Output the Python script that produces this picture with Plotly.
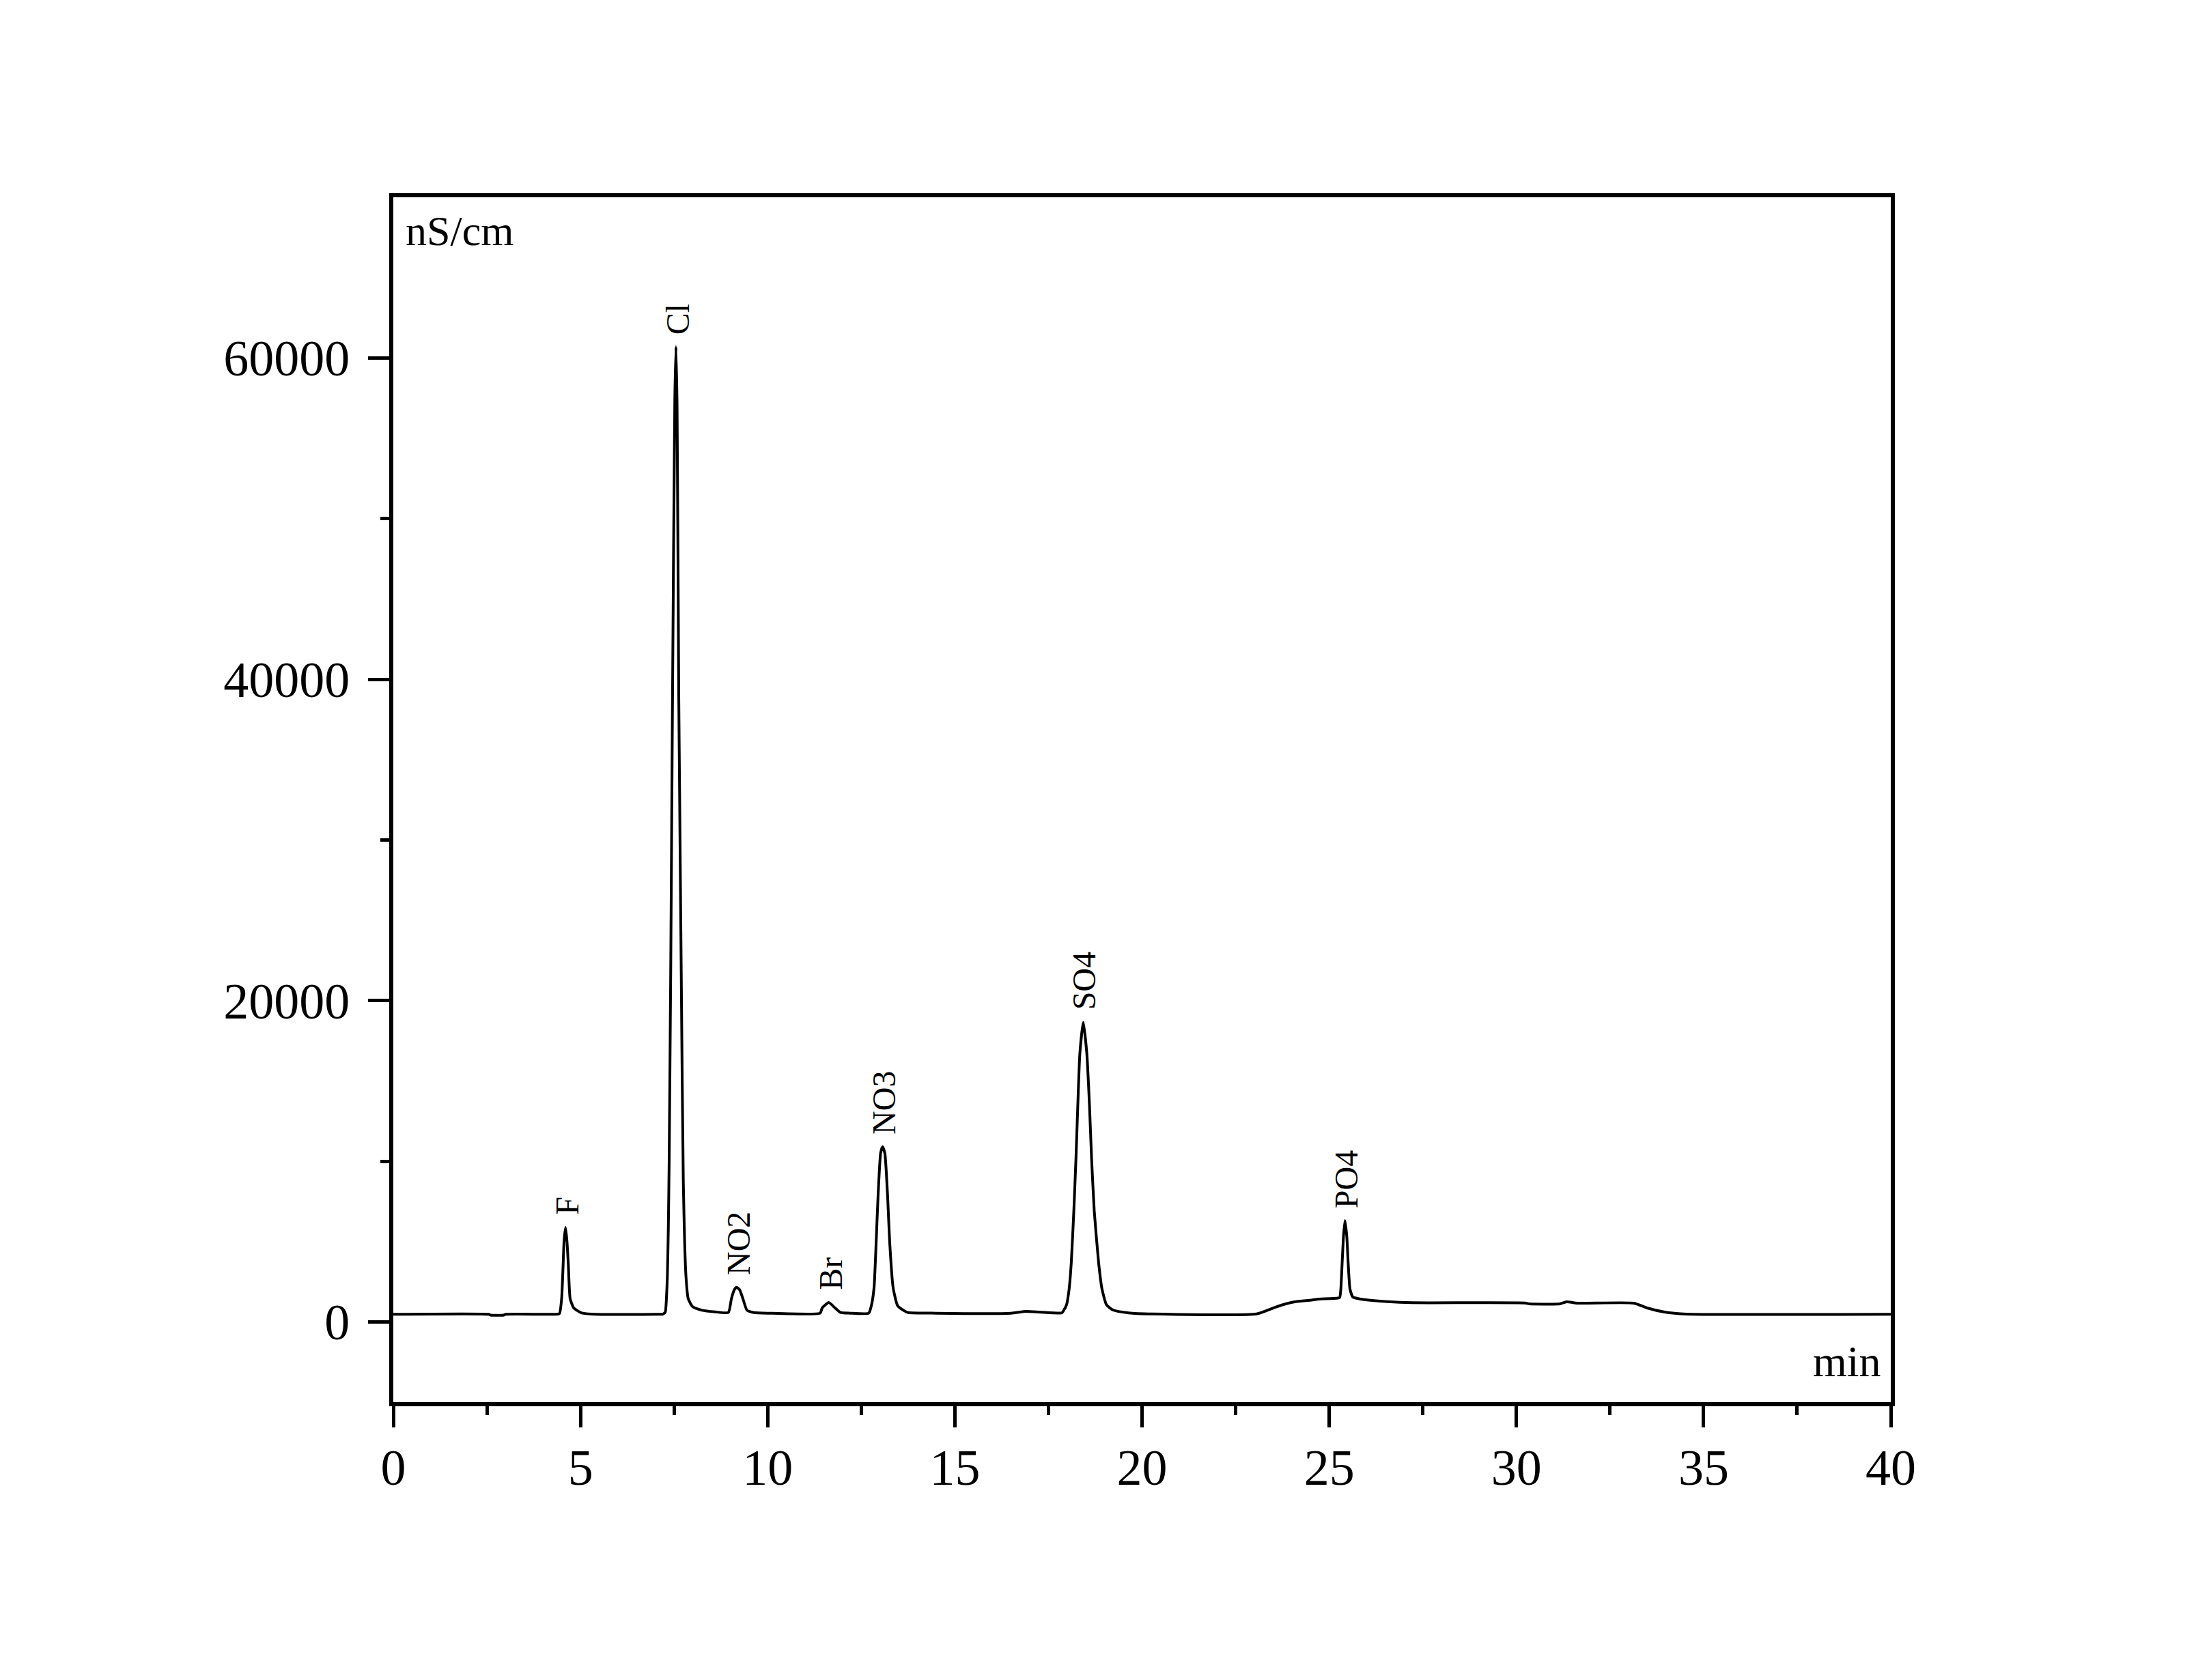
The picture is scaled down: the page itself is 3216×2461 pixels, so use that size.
import numpy as np
import plotly.graph_objects as go

# ---- data ----
time_min = [
    0.00, 2.55, 2.60, 2.95, 3.00, 4.40,
    4.44, 4.496, 4.536, 4.56, 4.60, 4.64, 4.675, 4.724, 4.82, 5.02, 5.30, 7.00,
    7.20, 7.264, 7.295, 7.321, 7.345, 7.368, 7.410, 7.459, 7.52, 7.55, 7.58, 7.624,
    7.691, 7.746, 7.817, 7.879, 7.997, 8.244, 8.60, 8.95,
    9.03, 9.11, 9.17, 9.25, 9.34, 9.447, 9.626, 10.00, 11.40,
    11.456, 11.63, 11.80, 11.946, 12.20, 12.70,
    12.77, 12.842, 12.898, 12.948, 13.017, 13.07, 13.13, 13.204, 13.259, 13.35,
    13.47, 13.64, 13.75, 14.50, 16.50,
    16.90, 17.30, 17.86,
    17.914, 17.983, 18.052, 18.109, 18.178, 18.235, 18.283, 18.338, 18.43, 18.526,
    18.597, 18.652, 18.723, 18.841, 18.931, 19.05, 19.225, 19.64, 20.27, 23.06,
    23.55, 23.84, 24.11, 24.53, 24.65, 25.23, 25.28,
    25.31, 25.345, 25.38, 25.42, 25.47, 25.506, 25.555, 25.63, 25.81, 25.93,
    26.55, 27.21, 30.23, 30.35, 31.16, 31.34, 31.63, 33.14, 33.49, 33.96, 34.54, 40.00,
]
signal_nScm = [
    470, 470, 420, 420, 470, 480,
    520, 1430, 3555, 4970, 5880, 4970, 3555, 1430, 865, 560, 480, 470,
    480, 600, 1430, 2850, 5680, 9930, 21800, 39150, 57500, 60700, 57000, 39150,
    21800, 8800, 2850, 1430, 935, 720, 620, 580,
    1430, 2000, 2150, 2000, 1430, 720, 580, 540, 540,
    865, 1200, 865, 580, 540, 540,
    1010, 2140, 4970, 7800, 10500, 10900, 10500, 7800, 4970, 2140,
    1010, 700, 580, 540, 540,
    650, 600, 560,
    735, 1060, 2035, 3660, 6910, 10165, 13415, 16670, 18650, 16670,
    13415, 10165, 6910, 3660, 2035, 1060, 735, 560, 490, 490,
    900, 1120, 1260, 1355, 1400, 1480, 1515,
    2035, 3660, 5290, 6300, 5290, 3660, 2035, 1545, 1430, 1385,
    1260, 1190, 1175, 1120, 1120, 1250, 1165, 1165, 865, 610, 485, 467,
]

peak_names = ["F", "Cl", "NO2", "Br", "NO3", "SO4", "PO4"]
peak_times = [4.60, 7.55, 9.17, 11.63, 13.07, 18.43, 25.42]

x_ticks = [0, 5, 10, 15, 20, 25, 30, 35, 40]
x_minor = [2.5, 7.5, 12.5, 17.5, 22.5, 27.5, 32.5, 37.5]
y_ticks = [0, 20000, 40000, 60000]
y_minor = [10000, 30000, 50000]

FONT = "Liberation Serif"

t = np.array(time_min)
s = np.array(signal_nScm)

fig = go.Figure()
fig.add_trace(go.Scatter(x=t, y=s, mode="lines",
                         line=dict(color="black", width=4, shape="spline",
                                   smoothing=0.5),
                         showlegend=False, hoverinfo="skip"))

for name, pt in zip(peak_names, peak_times):
    mask = np.abs(t - pt) <= 0.15
    py = float(s[mask].max())
    fig.add_annotation(x=pt, y=py, text=name, textangle=-90, showarrow=False,
                       xanchor="center", yanchor="bottom", yshift=16, xshift=2,
                       font=dict(family=FONT, size=48, color="black"))

fig.add_annotation(xref="paper", yref="paper", x=0, y=1, text="nS/cm",
                   showarrow=False, xanchor="left", yanchor="top",
                   xshift=16, yshift=-13,
                   font=dict(family=FONT, size=62, color="black"))
fig.add_annotation(xref="paper", yref="paper", x=1, y=0, text="min",
                   showarrow=False, xanchor="right", yanchor="bottom",
                   xshift=-12, yshift=22,
                   font=dict(family=FONT, size=64, color="black"))

axis_common = dict(showline=True, linewidth=6, linecolor="black", mirror=True,
                   showgrid=False, zeroline=False, ticks="outside",
                   ticklen=31, tickwidth=5, tickcolor="black",
                   tickfont=dict(family=FONT, size=74, color="black"))

fig.update_xaxes(range=[0, 40], tickvals=x_ticks,
                 ticktext=[str(v) for v in x_ticks],
                 ticklabelstandoff=-5,
                 minor=dict(tickvals=x_minor, ticklen=13, tickwidth=5,
                            tickcolor="black", ticks="outside", showgrid=False),
                 **axis_common)
fig.update_yaxes(range=[-5000, 70000], tickvals=y_ticks,
                 ticktext=[str(v) for v in y_ticks],
                 ticklabelstandoff=12,
                 minor=dict(tickvals=y_minor, ticklen=13, tickwidth=5,
                            tickcolor="black", ticks="outside", showgrid=False),
                 **axis_common)

fig.update_layout(width=3216, height=2461,
                  margin=dict(l=568, r=455, t=281, b=415, pad=0),
                  plot_bgcolor="white", paper_bgcolor="white",
                  font=dict(family=FONT, color="black"))

fig.write_html("out.html")
